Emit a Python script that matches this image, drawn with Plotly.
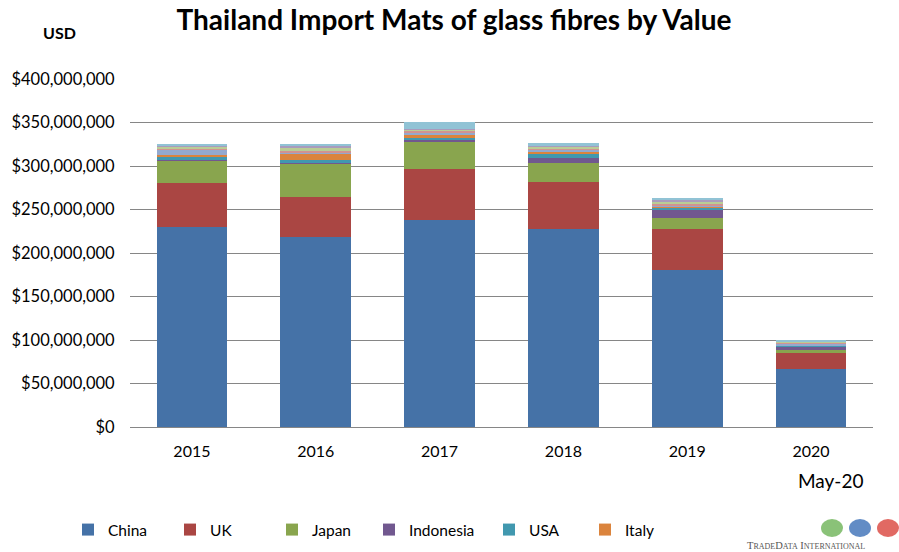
import plotly.graph_objects as go

years = ["2015", "2016", "2017", "2018", "2019", "2020"]

# values in USD millions
china     = [230, 218, 238, 228, 180, 67]
uk        = [50, 46, 58, 54, 48, 19]
japan     = [26, 39, 32, 21, 12, 2]
indonesia = [1, 0.8, 2, 6.5, 9.5, 4]
usa       = [3.5, 3, 2.7, 4, 3, 1.5]
italy     = [2.5, 7.5, 3, 2.5, 0.5, 0.5]
other7    = [5, 1.5, 2, 2.5, 1.5, 1.5]
other8    = [2.5, 2, 3, 2, 2.5, 1.5]
other9    = [2, 2.5, 1, 1.5, 2, 1]
other10   = [1.5, 2.5, 1, 1.5, 1.5, 0.5]
other11   = [1.5, 2.5, 8, 3, 2.5, 1.5]

series = [
    ("China", china, "#4572A7", "legend"),
    ("UK", uk, "#AA4643", "legend2"),
    ("Japan", japan, "#89A54E", "legend3"),
    ("Indonesia", indonesia, "#71588F", "legend4"),
    ("USA", usa, "#4198AF", "legend5"),
    ("Italy", italy, "#DB843D", "legend6"),
    ("Other 7", other7, "#93A9CF", None),
    ("Other 8", other8, "#D19392", None),
    ("Other 9", other9, "#B9CD96", None),
    ("Other 10", other10, "#A99BBD", None),
    ("Other 11", other11, "#91C3D5", None),
]

fig = go.Figure()
for name, vals, color, leg in series:
    fig.add_trace(go.Bar(
        x=years, y=[v * 1e6 for v in vals], name=name,
        marker=dict(color=color, line=dict(width=0)),
        showlegend=leg is not None,
        legend=leg if leg else "legend",
        hovertemplate=name + " %{x}: $%{y:,.0f}<extra></extra>",
    ))

L, R, T, B = 130, 873, 79, 427
PW, PH = R - L, B - T


def px(x):
    return (x - L) / PW


def py(y):
    return (B - y) / PH


font = "Lato, 'Liberation Sans', sans-serif"
legend_text_x = [103, 205, 307, 404, 524, 620]
legends = {}
for i, tx in enumerate(legend_text_x):
    key = "legend" if i == 0 else f"legend{i + 1}"
    legends[key] = dict(orientation="h", x=px(tx - 35), xanchor="left",
                        y=py(530), yanchor="middle", font=dict(size=15.5),
                        itemwidth=30, bgcolor="rgba(0,0,0,0)")

fig.update_layout(
    barmode="stack",
    bargap=0.43,
    width=899, height=552,
    margin=dict(l=L, r=899 - R, t=T, b=552 - B, autoexpand=False),
    paper_bgcolor="white", plot_bgcolor="white",
    font=dict(family=font, size=16, color="#000000"),
    title=dict(text="<b>Thailand Import Mats of glass fibres by Value</b>",
               x=0.505, xanchor="center", y=1 - 20 / 552, yanchor="middle",
               font=dict(size=28, family=font, color="#000000")),
    xaxis=dict(range=[-0.5, 5.5], showgrid=False, showline=True,
               linecolor="#868686", linewidth=1, ticks="outside", ticklen=10,
               tickcolor="rgba(0,0,0,0)", tickfont=dict(size=16)),
    yaxis=dict(range=[0, 400e6], tickvals=[i * 50e6 for i in range(9)],
               tickformat="$,.0f", showgrid=True, gridcolor="#868686",
               gridwidth=1, zeroline=False, showline=False,
               tickfont=dict(size=16.5), ticklen=11, ticks="outside",
               tickcolor="rgba(0,0,0,0)"),
    annotations=[
        dict(text="<b>USD</b>", x=px(59), y=py(32), xref="paper", yref="paper",
             xanchor="center", yanchor="middle",
             showarrow=False, font=dict(size=16)),
        dict(text="May-20", x=px(830), y=py(480), xref="paper", yref="paper",
             showarrow=False, font=dict(size=19), xanchor="center",
             yanchor="middle"),
        dict(text="T<span style='font-size:8px'>RADE</span>D<span style='font-size:8px'>ATA</span> I<span style='font-size:8px'>NTERNATIONAL</span>",
             x=px(745), y=py(545), xref="paper", yref="paper", xanchor="left",
             yanchor="middle",
             showarrow=False, font=dict(size=10.5, family="'Liberation Serif', serif", color="#555555")),
    ],
    shapes=[
        dict(type="circle", xref="paper", yref="paper",
             x0=px(cx - 11), x1=px(cx + 11), y0=py(528 + 9), y1=py(528 - 9),
             fillcolor=c, line=dict(width=0), opacity=0.8)
        for cx, c in [(832, "#6DB356"), (860, "#3B6FB6"), (888, "#D9443C")]
    ],
    **legends,
)

fig.write_html("out.html", config={"displayModeBar": False},
               post_script="document.body.style.margin='0';")
